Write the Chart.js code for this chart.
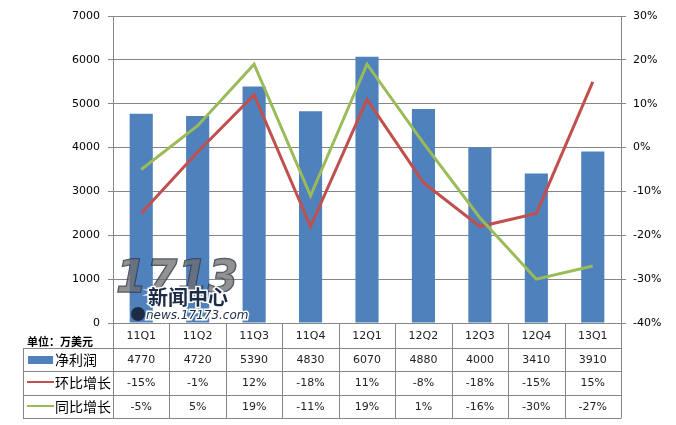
<!DOCTYPE html>
<html>
<head>
<meta charset="utf-8">
<script src="https://cdn.jsdelivr.net/npm/chart.js@4"></script>
<style>
  body { margin: 0; background: #fff; }
  canvas { display: block; }
</style>
</head>
<body>
<canvas id="myChart" width="676" height="425"></canvas>
<script>
const quarters = ["11Q1", "11Q2", "11Q3", "11Q4", "12Q1", "12Q2", "12Q3", "12Q4", "13Q1"];
const netProfit = [4770, 4720, 5390, 4830, 6070, 4880, 4000, 3410, 3910];
const qoqGrowth = [-15, -1, 12, -18, 11, -8, -18, -15, 15];
const yoyGrowth = [-5, 5, 19, -11, 19, 1, -16, -30, -27];

const unitLabel = "单位：万美元";
const seriesNames = ["净利润", "环比增长", "同比增长"];

const blue = "#4F81BD";
const red = "#C0504D";
const green = "#9BBB59";
const gridColor = "#868686";
const font = "DejaVu Sans";
const cjk = "'Noto Sans CJK SC'";

// data table under the plot, columns follow the x scale
const tablePlugin = {
  id: "table",
  afterDraw: function (chart) {
    const ctx = chart.ctx;
    const area = chart.chartArea;
    const x = chart.scales.x;
    const colW = (area.right - area.left) / quarters.length;
    const rows = [area.bottom, 348, 371, 395, 418];
    const left = 23;

    ctx.save();
    ctx.strokeStyle = gridColor;
    ctx.lineWidth = 1;
    ctx.beginPath();
    // horizontal lines
    for (let r = 1; r < rows.length; r++) {
      ctx.moveTo(left, rows[r] + 0.5);
      ctx.lineTo(area.right, rows[r] + 0.5);
    }
    // vertical lines
    for (let i = 0; i <= quarters.length; i++) {
      const xx = Math.round(area.left + i * colW) + 0.5;
      ctx.moveTo(xx, rows[0]);
      ctx.lineTo(xx, rows[4] + 0.5);
    }
    ctx.moveTo(left + 0.5, rows[1]);
    ctx.lineTo(left + 0.5, rows[4] + 0.5);
    ctx.stroke();

    ctx.fillStyle = "#000";
    ctx.textBaseline = "middle";
    ctx.textAlign = "left";
    ctx.font = "bold 11px " + cjk;
    ctx.fillText(unitLabel, 27, 342);

    // legend keys
    ctx.fillStyle = blue;
    ctx.fillRect(28, 356, 25, 8);
    ctx.lineWidth = 2;
    ctx.strokeStyle = red;
    ctx.beginPath();
    ctx.moveTo(27, 382);
    ctx.lineTo(54, 382);
    ctx.stroke();
    ctx.strokeStyle = green;
    ctx.beginPath();
    ctx.moveTo(27, 406);
    ctx.lineTo(54, 406);
    ctx.stroke();

    ctx.fillStyle = "#000";
    ctx.font = "14px " + cjk;
    ctx.fillText(seriesNames[0], 55, 360);
    ctx.fillText(seriesNames[1], 55, 383);
    ctx.fillText(seriesNames[2], 55, 407);

    ctx.textAlign = "center";
    ctx.font = "11px " + font;
    ctx.fillStyle = "#222";
    quarters.forEach((q, i) => {
      const cx = x.getPixelForValue(i);
      ctx.fillText(q, cx, 336);
      ctx.fillText(String(netProfit[i]), cx, 360);
      ctx.fillText(qoqGrowth[i] + "%", cx, 383);
      ctx.fillText(yoyGrowth[i] + "%", cx, 407);
    });
    ctx.restore();
  },
};

// rough 17173 watermark over the first bars
const watermarkPlugin = {
  id: "watermark",
  afterDatasetsDraw: function (chart) {
    const ctx = chart.ctx;
    ctx.save();
    ctx.textBaseline = "alphabetic";
    ctx.textAlign = "left";
    ctx.font = "bold italic 44px " + font;
    ctx.fillStyle = "rgba(110,110,110,0.75)";
    ctx.strokeStyle = "rgba(29,44,70,0.8)";
    ctx.lineWidth = 1.5;
    ctx.strokeText("1713", 116, 292);
    ctx.fillText("1713", 116, 292);
    ctx.font = "bold 20px " + cjk;
    ctx.fillStyle = "#1d2c46";
    ctx.strokeStyle = "#fff";
    ctx.lineWidth = 3;
    ctx.strokeText("新闻中心", 148, 305);
    ctx.fillText("新闻中心", 148, 305);
    ctx.font = "italic 12px " + font;
    ctx.fillStyle = "#1d2c46";
    ctx.strokeText("news.17173.com", 146, 319);
    ctx.fillText("news.17173.com", 146, 319);
    ctx.beginPath();
    ctx.arc(138, 314, 7, 0, Math.PI * 2);
    ctx.fill();
    ctx.restore();
  },
};

new Chart(document.getElementById("myChart"), {
  type: "bar",
  data: {
    labels: quarters,
    datasets: [
      {
        label: seriesNames[0],
        data: netProfit,
        backgroundColor: blue,
        yAxisID: "y",
        barPercentage: 0.41,
        categoryPercentage: 1,
        order: 3,
      },
      {
        type: "line",
        label: seriesNames[1],
        data: qoqGrowth,
        borderColor: red,
        borderWidth: 3,
        pointRadius: 0,
        tension: 0,
        yAxisID: "y1",
        order: 2,
      },
      {
        type: "line",
        label: seriesNames[2],
        data: yoyGrowth,
        borderColor: green,
        borderWidth: 3,
        pointRadius: 0,
        tension: 0,
        yAxisID: "y1",
        order: 1,
      },
    ],
  },
  options: {
    responsive: false,
    animation: false,
    layout: { padding: { top: 16, bottom: 102, left: 0, right: 0 } },
    plugins: {
      legend: { display: false },
      tooltip: { enabled: false },
    },
    scales: {
      x: { display: false },
      y: {
        position: "left",
        min: 0,
        max: 7000,
        afterFit: function (scale) { scale.width = 113; },
        ticks: {
          stepSize: 1000,
          color: "#000",
          font: { family: font, size: 11 },
          padding: 8,
          callback: (v) => String(v),
        },
        grid: { color: gridColor, tickLength: 5 },
        border: { display: true, color: gridColor },
      },
      y1: {
        position: "right",
        min: -40,
        max: 30,
        afterFit: function (scale) { scale.width = 55; },
        ticks: {
          stepSize: 10,
          color: "#000",
          font: { family: font, size: 11 },
          padding: 7,
          callback: (v) => v + "%",
        },
        grid: { drawOnChartArea: false, color: gridColor, tickLength: 5 },
        border: { display: true, color: gridColor },
      },
    },
  },
  plugins: [tablePlugin, watermarkPlugin],
});
</script>
</body>
</html>
